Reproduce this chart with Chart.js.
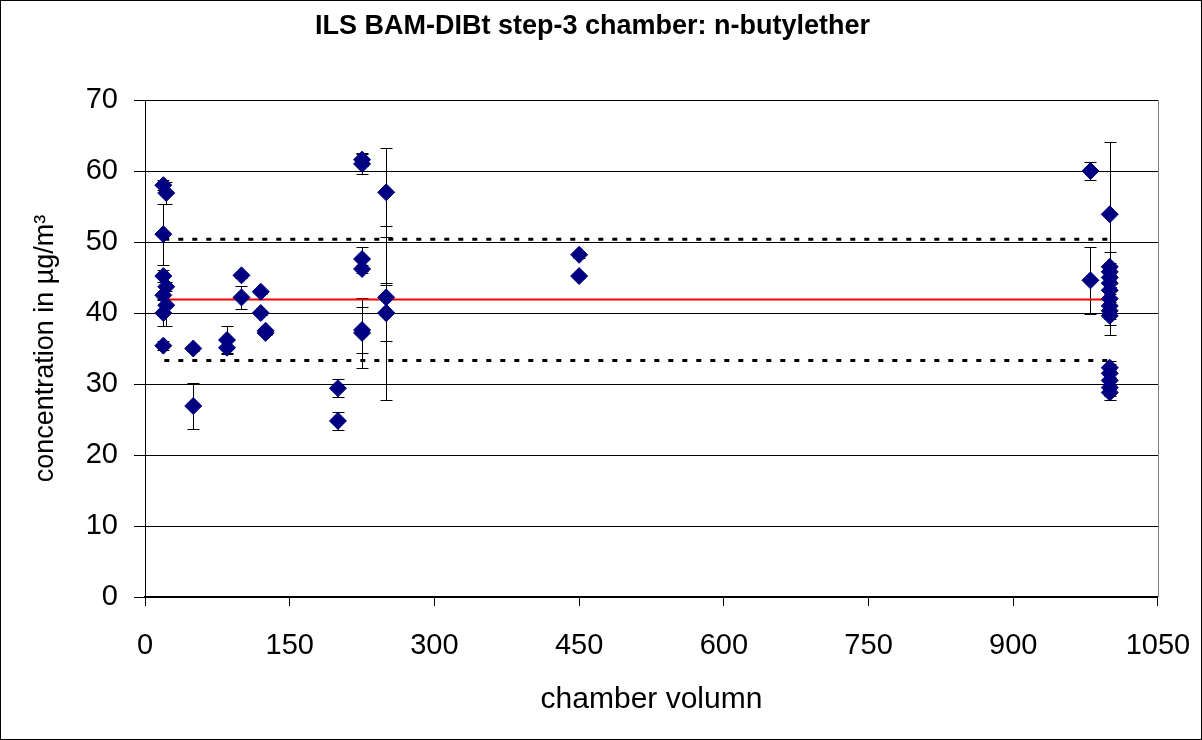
<!DOCTYPE html>
<html>
<head>
<meta charset="utf-8">
<script src="https://cdn.jsdelivr.net/npm/chart.js@4/dist/chart.umd.min.js"></script>
<style>
  html, body { margin: 0; padding: 0; background: #fff; }
  #wrap { width: 1200px; height: 738px; border: 1px solid #000; background: #fff; }
  canvas { display: block; }
</style>
</head>
<body>
<div id="wrap"><canvas id="c" width="1200" height="738" style="width:1200px;height:738px"></canvas></div>
<script>
// ---- data ----
const chamberVolume = [
  19, 22, 19, 19, 22, 19, 22, 19, 19,
  50, 50,
  85, 85,
  100, 100,
  120, 120,
  125, 125,
  200, 200,
  225, 225, 225, 225, 225, 225,
  250, 250, 250, 250,
  450, 450,
  980, 980,
  1000, 1000, 1000, 1000, 1000, 1000, 1000, 1000, 1000, 1000, 1000, 1000, 1000, 1000, 1000
];
const concentration = [
  58.0, 56.9, 51.1, 45.2, 43.7, 42.5, 41.1, 40.0, 35.4,
  35.0, 26.9,
  36.2, 35.1,
  45.3, 42.2,
  43.0, 40.0,
  37.5, 37.2,
  29.4, 24.8,
  61.6, 61.0, 47.6, 46.2, 37.6, 37.2,
  57.0, 42.2, 40.0, 40.0,
  48.2, 45.2,
  60.0, 44.6,
  53.9, 46.5, 45.8, 45.0, 44.2, 43.2, 42.0, 41.0, 40.3, 39.6, 32.3, 31.5, 30.5, 29.5, 28.8
];
const uncertainty = [
  0.7, 1.5, 4.3, 0.8, 0.6, 0.5, 3.0, 1.8, 0.6,
  0.3, 3.3,
  1.9, 0.9,
  0.3, 1.6,
  0.3, 0.3,
  0.3, 0.3,
  1.3, 1.3,
  0.9, 1.4, 1.7, 0.5, 3.3, 4.9,
  6.3, 2.0, 12.2, 3.9,
  0.4, 0.3,
  1.3, 4.7,
  10.2, 2.1, 0.5, 0.5, 0.5, 0.5, 5.1, 0.5, 2.0, 0.5, 0.5, 0.5, 2.8, 0.5, 0.5
];
const lineRange = [20, 1000];
const referenceValue = 41.9;
const upperLimit = 50.4;
const lowerLimit = 33.3;
const xTickValues = [0, 150, 300, 450, 600, 750, 900, 1050];
const yTickValues = [0, 10, 20, 30, 40, 50, 60, 70];

const points = chamberVolume.map((x, i) => ({ x: x, y: concentration[i] }));
const hline = v => lineRange.map(x => ({ x: x, y: v }));

const errorBars = {
  id: 'errorBars',
  beforeDatasetsDraw(chart) {
    const { ctx, scales: { x, y } } = chart;
    ctx.save();
    ctx.strokeStyle = '#000';
    ctx.lineWidth = 1;
    const cap = 6;
    chamberVolume.forEach((v, i) => {
      const e = uncertainty[i];
      if (!e) return;
      const px = Math.round(x.getPixelForValue(v)) + 0.5;
      const y1 = Math.round(y.getPixelForValue(concentration[i] + e)) + 0.5;
      const y2 = Math.round(y.getPixelForValue(concentration[i] - e)) + 0.5;
      ctx.beginPath();
      ctx.moveTo(px, y1); ctx.lineTo(px, y2);
      ctx.moveTo(px - cap, y1); ctx.lineTo(px + cap, y1);
      ctx.moveTo(px - cap, y2); ctx.lineTo(px + cap, y2);
      ctx.stroke();
    });
    ctx.restore();
  },
  afterDraw(chart) {
    const { ctx, scales: { x, y } } = chart;
    ctx.save();
    ctx.strokeStyle = '#808080';
    ctx.lineWidth = 1;
    const px = Math.round(x.getPixelForValue(x.max)) + 0.5;
    ctx.beginPath();
    ctx.moveTo(px, y.getPixelForValue(y.max));
    ctx.lineTo(px, y.getPixelForValue(y.min));
    ctx.stroke();
    ctx.restore();
  }
};

new Chart(document.getElementById('c'), {
  type: 'scatter',
  data: {
    datasets: [
      {
        label: 'results',
        data: points,
        pointStyle: 'rectRot',
        pointRadius: 8.5,
        pointHoverRadius: 8.5,
        backgroundColor: '#000080',
        borderColor: '#000080',
        borderWidth: 1,
        order: 0
      },
      {
        label: 'mean',
        type: 'line',
        data: hline(referenceValue),
        borderColor: '#ff0000',
        borderWidth: 2,
        pointRadius: 0,
        fill: false,
        order: 1
      },
      {
        label: 'upper',
        type: 'line',
        data: hline(upperLimit),
        borderColor: '#000',
        borderWidth: 3,
        borderDash: [5, 9],
        pointRadius: 0,
        fill: false,
        order: 2
      },
      {
        label: 'lower',
        type: 'line',
        data: hline(lowerLimit),
        borderColor: '#000',
        borderWidth: 3,
        borderDash: [5, 9],
        pointRadius: 0,
        fill: false,
        order: 2
      }
    ]
  },
  options: {
    responsive: false,
    devicePixelRatio: 1,
    animation: false,
    events: [],
    layout: { padding: { left: 0, right: 17, top: 0, bottom: 0 } },
    plugins: {
      legend: { display: false },
      tooltip: { enabled: false },
      title: {
        display: true,
        text: 'ILS BAM-DIBt step-3 chamber: n-butylether',
        color: '#000',
        font: { family: 'Liberation Sans, Arial, sans-serif', size: 27, weight: 'bold' },
        padding: { top: 9, bottom: 57.6 }
      }
    },
    scales: {
      x: {
        type: 'linear',
        min: 0,
        max: 1050,
        afterBuildTicks: s => { s.ticks = xTickValues.map(v => ({ value: v })); },
        afterFit: s => { s.height = 142; },
        ticks: {
          color: '#000',
          font: { family: 'Liberation Sans, Arial, sans-serif', size: 29, lineHeight: '58.5px' },
          padding: 10.75,
          maxRotation: 0,
          autoSkip: false,
          callback: v => String(v)
        },
        grid: { drawOnChartArea: false, drawTicks: true, tickLength: 9, color: '#000', tickColor: '#000' },
        border: { display: true, color: '#000', width: 2 },
        title: {
          display: true,
          text: 'chamber volumn',
          color: '#000',
          font: { family: 'Liberation Sans, Arial, sans-serif', size: 30 },
          padding: { top: 0, bottom: 21 }
        }
      },
      y: {
        type: 'linear',
        min: 0,
        max: 70,
        afterBuildTicks: s => { s.ticks = yTickValues.map(v => ({ value: v })); },
        afterFit: s => { s.width = 144; },
        ticks: {
          color: '#000',
          font: { family: 'Liberation Sans, Arial, sans-serif', size: 29 },
          padding: 16,
          callback: v => String(v)
        },
        grid: { drawOnChartArea: true, drawTicks: true, tickLength: 11, color: '#000', tickColor: '#000', lineWidth: 1 },
        border: { display: true, color: '#000', width: 1 },
        title: {
          display: true,
          text: 'concentration in µg/m³',
          color: '#000',
          font: { family: 'Liberation Sans, Arial, sans-serif', size: 27 },
          padding: { top: 28, bottom: 0 }
        }
      }
    }
  },
  plugins: [errorBars]
});
</script>
</body>
</html>
